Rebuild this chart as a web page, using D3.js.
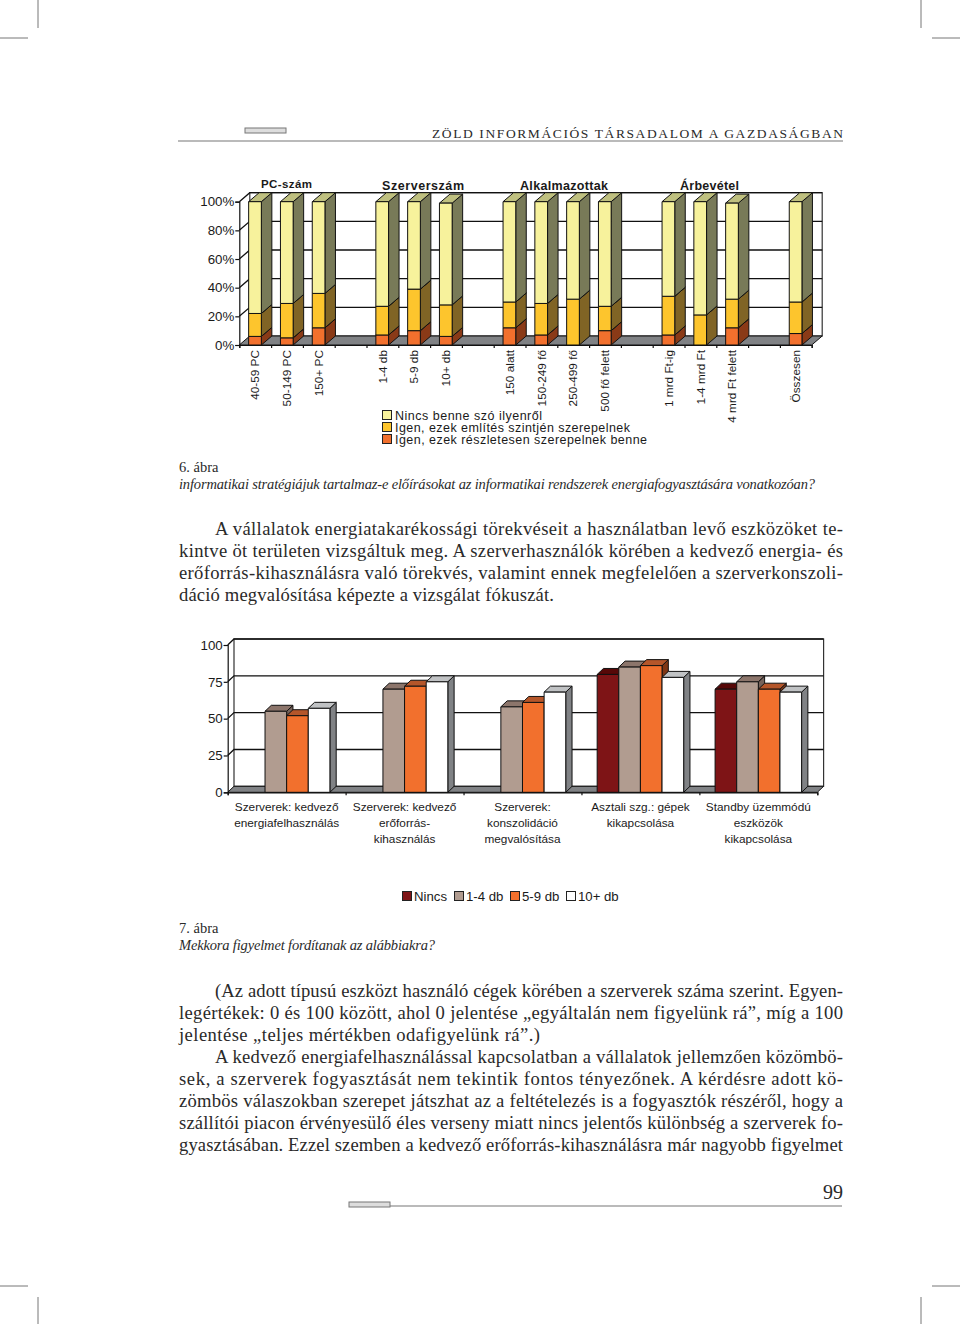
<!DOCTYPE html>
<html lang="hu">
<head>
<meta charset="utf-8">
<title>Zöld információs társadalom a gazdaságban</title>
<script src="https://cdnjs.cloudflare.com/ajax/libs/d3/7.8.5/d3.min.js"></script>
<style>
  body { margin: 0; background: #fff; }
  svg { display: block; }
  .sans { font-family: "Liberation Sans", Arial, sans-serif; fill: #1a1a1a; }
  .serif { font-family: "Liberation Serif", serif; fill: #2a2a2a; }
</style>
</head>
<body>
<svg id="page" width="960" height="1324"></svg>
<script>
  'use strict';

  // 6. abra
  var stackCategories = ['40-59 PC', '50-149 PC', '150+ PC', '', '1-4 db', '5-9 db', '10+ db', '',
    '150 alatt', '150-249 fő', '250-499 fő', '500 fő felett', '',
    '1 mrd Ft-ig', '1-4 mrd Ft', '4 mrd Ft felett', '', 'Összesen'];
  var stackDetailed = [6, 5, 12, 0, 7, 10, 6, 0, 12, 7, 0, 10, 0, 7, 0, 12, 0, 8];
  var stackMentioned = [16, 24, 24, 0, 20, 29, 22, 0, 18, 22, 32, 17, 0, 27, 21, 20, 0, 22];
  var stackNone = [78, 71, 64, 0, 73, 61, 71, 0, 70, 71, 68, 73, 0, 66, 79, 67, 0, 70];
  var stackLegend = ['Nincs benne szó ilyenről', 'Igen, ezek említés szintjén szerepelnek', 'Igen, ezek részletesen szerepelnek benne'];
  var stackGroups = ['PC-szám', 'Szerverszám', 'Alkalmazottak', 'Árbevétel'];
  var percentTicks = [0, 20, 40, 60, 80, 100];

  // 7. abra
  var barCategories = [
    ['Szerverek: kedvező', 'energiafelhasználás'],
    ['Szerverek: kedvező', 'erőforrás-', 'kihasználás'],
    ['Szerverek:', 'konszolidáció', 'megvalósítása'],
    ['Asztali szg.: gépek', 'kikapcsolása'],
    ['Standby üzemmódú', 'eszközök', 'kikapcsolása']
  ];
  var barSeries = ['Nincs', '1-4 db', '5-9 db', '10+ db'];
  var barNone = [null, null, null, 80, 70];
  var barFew = [55, 70, 58, 85, 75];
  var barSome = [52, 72, 61, 86, 70];
  var barMany = [57, 75, 68, 78, 68];
  var scoreTicks = [0, 25, 50, 75, 100];

  var headerText = 'ZÖLD INFORMÁCIÓS TÁRSADALOM A GAZDASÁGBAN';
  var pageNumber = '99';
  var caption6 = ['6. ábra', 'informatikai stratégiájuk tartalmaz-e előírásokat az informatikai rendszerek energiafogyasztására vonatkozóan?'];
  var caption7 = ['7. ábra', 'Mekkora figyelmet fordítanak az alábbiakra?'];
  var bodyTop = [
    'A vállalatok energiatakarékossági törekvéseit a használatban levő eszközöket te-',
    'kintve öt területen vizsgáltuk meg. A szerverhasználók körében a kedvező energia- és',
    'erőforrás-kihasználásra való törekvés, valamint ennek megfelelően a szerverkonszoli-',
    'dáció megvalósítása képezte a vizsgálat fókuszát.'
  ];
  var bodyBottom = [
    '(Az adott típusú eszközt használó cégek körében a szerverek száma szerint. Egyen-',
    'legértékek: 0 és 100 között, ahol 0 jelentése „egyáltalán nem figyelünk rá”, míg a 100',
    'jelentése „teljes mértékben odafigyelünk rá”.)',
    'A kedvező energiafelhasználással kapcsolatban a vállalatok jellemzően közömbö-',
    'sek, a szerverek fogyasztását nem tekintik fontos tényezőnek. A kérdésre adott kö-',
    'zömbös válaszokban szerepet játszhat az a feltételezés is a fogyasztók részéről, hogy a',
    'szállítói piacon érvényesülő éles verseny miatt nincs jelentős különbség a szerverek fo-',
    'gyasztásában. Ezzel szemben a kedvező erőforrás-kihasználásra már nagyobb figyelmet'
  ];

  var $svg = d3.select('#page');
  var LEFT = 179, RIGHT = 843, INDENT = 215;

  function point(a) { return a.join(','); }

  function face($g, pts, fill) {
    $g.append('polygon')
      .attr('points', pts.map(point).join(' '))
      .attr('fill', fill)
      .attr('stroke', '#111')
      .attr('stroke-width', 1)
      .attr('stroke-linejoin', 'round');
  }

  // front, side and top of a box standing between the y pixels yBase and yTop
  function box($g, x, w, yBase, yTop, dx, dy, colors) {
    face($g, [[x + w, yBase], [x + w + dx, yBase - dy], [x + w + dx, yTop - dy], [x + w, yTop]], colors.side);
    face($g, [[x, yTop], [x + dx, yTop - dy], [x + w + dx, yTop - dy], [x + w, yTop]], colors.top);
    face($g, [[x, yBase], [x, yTop], [x + w, yTop], [x + w, yBase]], colors.front);
  }

  // back wall, left wall and floor of the pseudo 3D plot area
  function walls($g, xRange, y, ticks, dx, dy) {
    var x0 = xRange[0], x1 = xRange[1], yBase = y(0);
    $g.append('rect')
      .attr('x', x0 + dx)
      .attr('y', y.range()[1] - dy)
      .attr('width', x1 - x0)
      .attr('height', yBase - y.range()[1])
      .attr('fill', '#fff')
      .attr('stroke', '#333')
      .attr('stroke-width', 1.2);
    ticks.forEach(function(t) {
      if (t === 0) return;
      $g.append('path')
        .attr('d', 'M' + x0 + ',' + y(t) + 'L' + (x0 + dx) + ',' + (y(t) - dy) + 'H' + (x1 + dx))
        .attr('fill', 'none')
        .attr('stroke', '#111')
        .attr('stroke-width', 1.3);
    });
    face($g, [[x0, yBase], [x0 + dx, yBase - dy], [x1 + dx, yBase - dy], [x1, yBase]], '#808285');
  }

  function styleAxis($axis) {
    $axis.selectAll('path, line').attr('stroke', '#111').attr('stroke-width', 1.2);
    $axis.selectAll('text')
      .attr('class', 'sans')
      .attr('fill', '#1a1a1a')
      .style('font-family', '"Liberation Sans", Arial, sans-serif');
  }

  function drawStackChart() {
    var xRange = [239.3, 811.7], dx = 10.5, dy = 9;
    var ids = d3.range(stackCategories.length);
    var x = d3.scaleBand().domain(ids).range(xRange).paddingInner(0.6).paddingOuter(0.3);
    var xEdge = d3.scaleLinear().domain([0, ids.length]).range(xRange);
    var y = d3.scaleLinear().domain([0, 100]).range([345, 201.7]);
    var $g = $svg.append('g').attr('class', 'stack-chart');

    walls($g, xRange, y, percentTicks, dx, dy);

    var rows = ids.map(function(i) {
      return { i: i, detailed: stackDetailed[i], mentioned: stackMentioned[i], none: stackNone[i] };
    });
    var layers = d3.stack().keys(['detailed', 'mentioned', 'none'])(rows);
    var palette = {
      detailed: { front: '#f2702d', side: '#8a3a17', top: '#b5562a' },
      mentioned: { front: '#fdc52d', side: '#806425', top: '#c2a340' },
      none: { front: '#f7f29c', side: '#787a58', top: '#bfc07f' }
    };
    var w = 12.7;
    ids.forEach(function(i) {
      if (!stackCategories[i]) return;
      layers.forEach(function(layer) {
        var d = layer[i];
        if (d[1] - d[0] <= 0) return;
        var center = x(i) + x.bandwidth() / 2;
        box($g, center - w / 2 - 0.2, w, y(d[0]), y(d[1]), dx, dy, palette[layer.key]);
      });
    });

    var $yAxis = $g.append('g')
      .attr('transform', 'translate(' + xRange[0] + ',0)')
      .call(d3.axisLeft(y).tickValues(percentTicks).tickSize(4).tickPadding(1)
        .tickFormat(function(d) { return d + '%'; }));
    styleAxis($yAxis);
    $yAxis.selectAll('text').style('font-size', '13.3px');

    var $ticks = $g.append('g')
      .attr('transform', 'translate(0,' + y(0) + ')')
      .call(d3.axisBottom(xEdge).tickValues(d3.range(ids.length + 1)).tickSize(3).tickFormat(''));
    styleAxis($ticks);

    var $labels = $g.append('g')
      .attr('transform', 'translate(0,' + y(0) + ')')
      .call(d3.axisBottom(x).tickSize(0).tickFormat(function(i) { return stackCategories[i]; }));
    $labels.select('.domain').remove();
    styleAxis($labels);
    $labels.selectAll('text')
      .attr('transform', 'rotate(-90)')
      .attr('x', -5)
      .attr('y', 0)
      .attr('dy', '0.35em')
      .attr('text-anchor', 'end')
      .style('font-size', '11.8px');

    var groupX = [261, 382, 520, 680];
    var groupWidth = [51, 82, 88, 59];
    $g.selectAll('text.group')
      .data(stackGroups)
      .enter()
      .append('text')
      .attr('class', 'group sans')
      .attr('x', function(d, i) { return groupX[i]; })
      .attr('y', function(d, i) { return i === 0 ? 188 : 190; })
      .attr('textLength', function(d, i) { return groupWidth[i]; })
      .style('font-size', function(d, i) { return i === 0 ? '11.5px' : '12.5px'; })
      .style('font-weight', 'bold')
      .text(function(d) { return d; });

    var legendFill = ['#f7f29c', '#fdc52d', '#f2702d'];
    var legendWidth = [147, 235, 252];
    var $legend = $g.selectAll('g.legend')
      .data(stackLegend)
      .enter()
      .append('g')
      .attr('class', 'legend')
      .attr('transform', function(d, i) { return 'translate(382,' + (410 + i * 12) + ')'; });
    $legend.append('rect')
      .attr('x', 0.5).attr('y', 0.5).attr('width', 9).attr('height', 9)
      .attr('fill', function(d, i) { return legendFill[i]; })
      .attr('stroke', '#222');
    $legend.append('text')
      .attr('class', 'sans')
      .attr('x', 13)
      .attr('y', 10)
      .attr('textLength', function(d, i) { return legendWidth[i]; })
      .style('font-size', '12.5px')
      .text(function(d) { return d; });
  }

  function drawBarChart() {
    var xRange = [227.7, 817.3], dx = 6.3, dy = 6;
    var ids = d3.range(barCategories.length);
    var x = d3.scaleBand().domain(ids).range(xRange);
    var inner = d3.scaleBand().domain(barSeries).range([15.7, 102.2]);
    var xEdge = d3.scaleLinear().domain([0, ids.length]).range(xRange);
    var y = d3.scaleLinear().domain([0, 100]).range([792.3, 645]);
    var values = [barNone, barFew, barSome, barMany];
    var palette = [
      { front: '#7e1416', side: '#4a0a0a', top: '#560808' },
      { front: '#b19c90', side: '#76635b', top: '#8c756b' },
      { front: '#f2702d', side: '#7f3614', top: '#b5562a' },
      { front: '#ffffff', side: '#808285', top: '#c0c2c4' }
    ];
    var $g = $svg.append('g').attr('class', 'bar-chart');

    walls($g, xRange, y, scoreTicks, dx, dy);

    ids.forEach(function(i) {
      barSeries.forEach(function(s, k) {
        var v = values[k][i];
        if (v === null) return;
        box($g, x(i) + inner(s), inner.bandwidth(), y(0), y(v), dx, dy, palette[k]);
      });
    });

    var $yAxis = $g.append('g')
      .attr('transform', 'translate(' + xRange[0] + ',0)')
      .call(d3.axisLeft(y).tickValues(scoreTicks).tickSize(4).tickPadding(1));
    styleAxis($yAxis);
    $yAxis.selectAll('text').style('font-size', '13.3px');

    var $ticks = $g.append('g')
      .attr('transform', 'translate(0,' + y(0) + ')')
      .call(d3.axisBottom(xEdge).tickValues(d3.range(ids.length + 1)).tickSize(3).tickFormat(''));
    styleAxis($ticks);

    ids.forEach(function(i) {
      $g.append('text')
        .attr('class', 'sans')
        .attr('x', x(i) + x.bandwidth() / 2)
        .attr('text-anchor', 'middle')
        .style('font-size', '11.8px')
        .selectAll('tspan')
        .data(barCategories[i])
        .enter()
        .append('tspan')
        .attr('x', x(i) + x.bandwidth() / 2)
        .attr('y', function(d, k) { return 811 + k * 16; })
        .text(function(d) { return d; });
    });

    var swatchX = [402, 454, 510, 566];
    var $legend = $g.selectAll('g.legend')
      .data(barSeries)
      .enter()
      .append('g')
      .attr('class', 'legend')
      .attr('transform', function(d, i) { return 'translate(' + swatchX[i] + ',891)'; });
    $legend.append('rect')
      .attr('x', 0.5).attr('y', 0.5).attr('width', 9).attr('height', 9)
      .attr('fill', function(d, i) { return palette[i].front; })
      .attr('stroke', '#222');
    $legend.append('text')
      .attr('class', 'sans')
      .attr('x', 12)
      .attr('y', 10)
      .style('font-size', '13.2px')
      .text(function(d) { return d; });
  }

  function drawParagraph(lines, firstY, indented, naturalWidths) {
    var $lines = $svg.append('g').selectAll('text')
      .data(lines)
      .enter()
      .append('text')
      .attr('class', 'serif')
      .attr('x', function(d, i) { return indented.indexOf(i) >= 0 ? INDENT : LEFT; })
      .attr('y', function(d, i) { return firstY + i * 22; })
      .attr('textLength', function(d, i) {
        if (naturalWidths[i]) return naturalWidths[i];
        return RIGHT - (indented.indexOf(i) >= 0 ? INDENT : LEFT);
      })
      .style('font-size', '18.6px')
      .text(function(d) { return d; });
    return $lines;
  }

  function drawCaption(lines, y, width) {
    $svg.append('text').attr('class', 'serif').attr('x', LEFT).attr('y', y)
      .style('font-size', '14.5px').text(lines[0]);
    $svg.append('text').attr('class', 'serif').attr('x', LEFT).attr('y', y + 17)
      .attr('textLength', width)
      .style('font-size', '14.5px').style('font-style', 'italic').text(lines[1]);
  }

  function drawPageFurniture() {
    var grey = '#777';
    var marks = [
      [38, 0, 38, 28], [0, 38, 28, 38], [921, 0, 921, 28], [932, 38, 960, 38],
      [38, 1297, 38, 1324], [0, 1286, 28, 1286], [921, 1297, 921, 1324], [932, 1286, 960, 1286]
    ];
    $svg.append('g').selectAll('line')
      .data(marks)
      .enter()
      .append('line')
      .attr('x1', function(d) { return d[0]; })
      .attr('y1', function(d) { return d[1]; })
      .attr('x2', function(d) { return d[2]; })
      .attr('y2', function(d) { return d[3]; })
      .attr('stroke', grey);

    $svg.append('line').attr('x1', 178).attr('x2', 843).attr('y1', 141).attr('y2', 141)
      .attr('stroke', grey).attr('stroke-width', 1.2);
    $svg.append('rect').attr('x', 245).attr('y', 128).attr('width', 41).attr('height', 5)
      .attr('fill', '#ddd').attr('stroke', grey);
    $svg.append('text').attr('class', 'serif').attr('x', 432).attr('y', 138)
      .attr('textLength', 411)
      .style('font-size', '13.5px')
      .text(headerText);

    $svg.append('line').attr('x1', 349).attr('x2', 842).attr('y1', 1206).attr('y2', 1206)
      .attr('stroke', grey).attr('stroke-width', 1.2);
    $svg.append('rect').attr('x', 349).attr('y', 1202).attr('width', 41).attr('height', 5)
      .attr('fill', '#ddd').attr('stroke', grey);
    $svg.append('text').attr('class', 'serif').attr('x', 843).attr('y', 1199)
      .attr('text-anchor', 'end')
      .style('font-size', '20px')
      .text(pageNumber);
  }

  drawPageFurniture();
  drawStackChart();
  drawBarChart();
  drawCaption(caption6, 472, 636);
  drawCaption(caption7, 933, 256);
  drawParagraph(bodyTop, 535, [0], { 3: 375 });
  drawParagraph(bodyBottom, 997, [0, 3], { 2: 361 });
</script>
</body>
</html>
